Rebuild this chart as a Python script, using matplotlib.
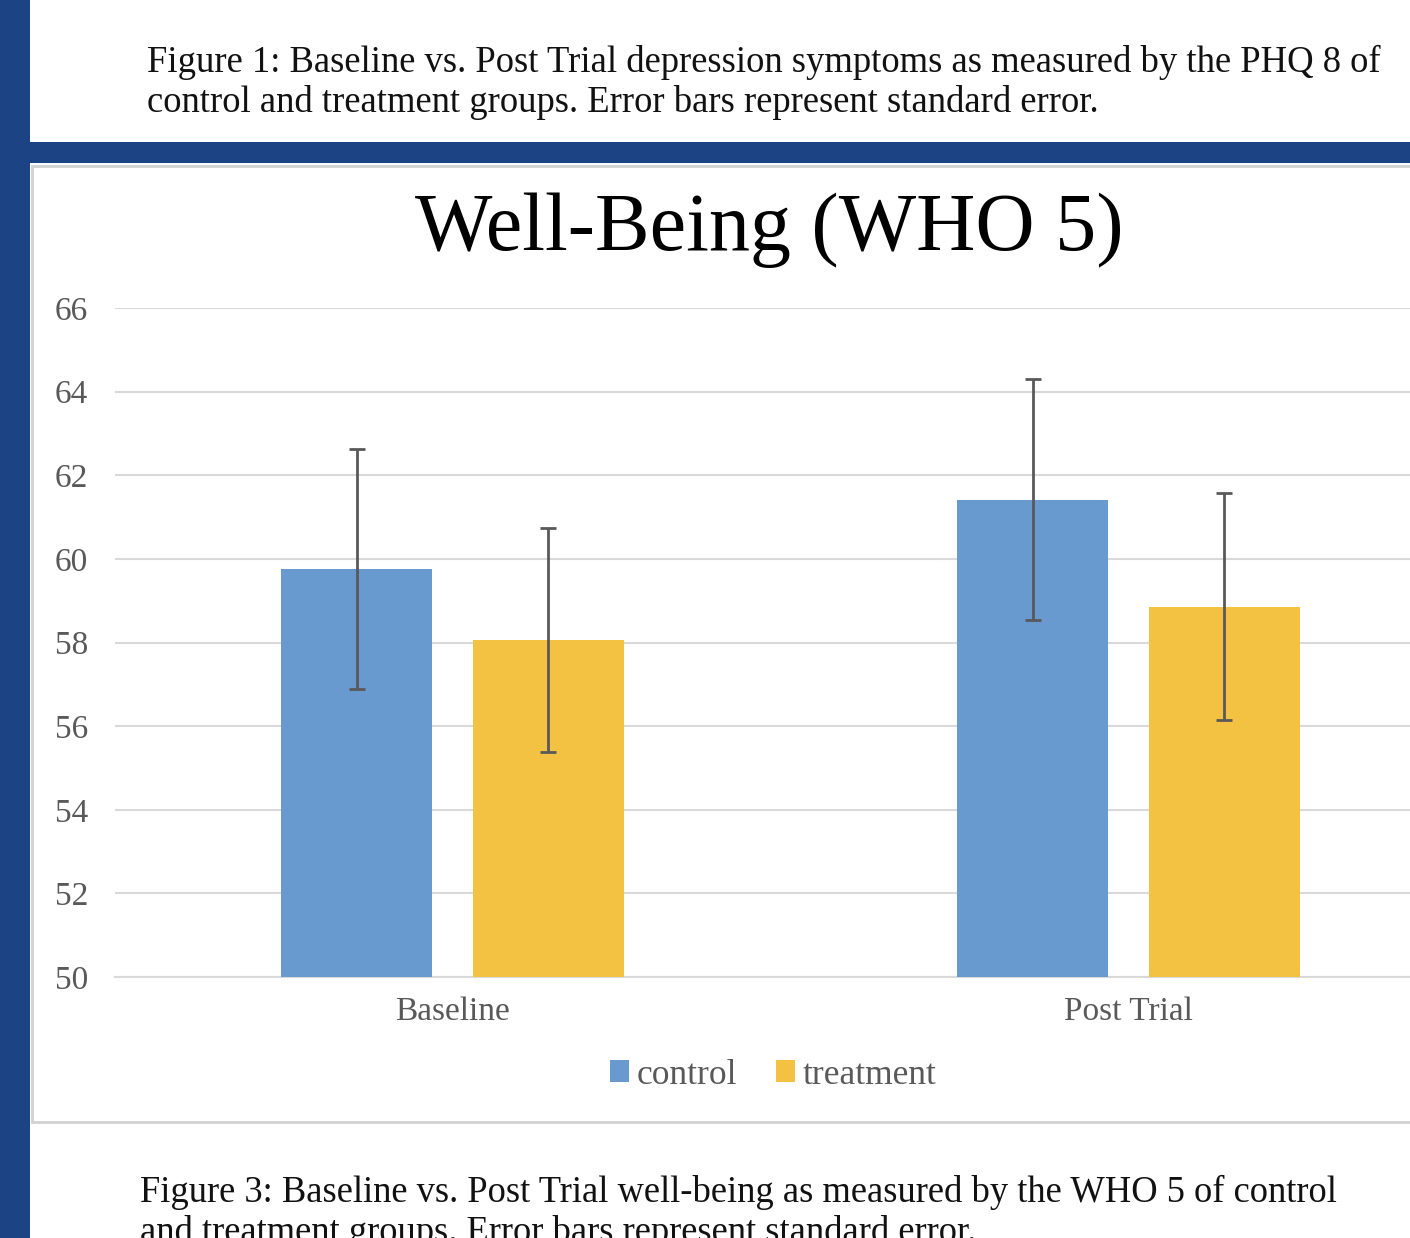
import matplotlib.pyplot as plt
import numpy as np
from matplotlib.patches import Rectangle

# data
groups = ["Baseline", "Post Trial"]
series = ["control", "treatment"]
control = [59.75, 61.42]
treatment = [58.07, 58.86]
control_se = [2.87, 2.87]
treatment_se = [2.68, 2.71]
yticks = [50, 52, 54, 56, 58, 60, 62, 64, 66]

title = "Well-Being (WHO 5)"
cap_top = ["Figure 1: Baseline vs. Post Trial depression symptoms as measured by the PHQ 8 of",
           "control and treatment groups. Error bars represent standard error."]
cap_bot = ["Figure 3: Baseline vs. Post Trial well-being as measured by the WHO 5 of control",
           "and treatment groups. Error bars represent standard error."]

W, H = 1410, 1238
plt.rcParams["font.family"] = ["Liberation Serif", "DejaVu Serif"]

fig = plt.figure(figsize=(W / 100, H / 100), dpi=100)
fig.patch.set_facecolor("white")


def fx(x):
    return x / W


def fy(y):
    return 1 - y / H


blue = "#1c4384"
# poster background pieces
fig.patches.append(Rectangle((0, 0), fx(30), 1, transform=fig.transFigure,
                             facecolor=blue, edgecolor="none", zorder=-2))
fig.patches.append(Rectangle((fx(30), fy(163)), 1, fy(142) - fy(163),
                             transform=fig.transFigure, facecolor=blue,
                             edgecolor="none", zorder=-2))
fig.patches.append(Rectangle((fx(32), fy(1122)), 1, fy(166) - fy(1122),
                             transform=fig.transFigure, facecolor="white",
                             edgecolor="#d2d2d2", linewidth=2, zorder=-2))

# captions
for i, line in enumerate(cap_top):
    fig.text(fx(147), fy(72 + 40 * i), line, fontsize=26.4, color="#111111",
             va="baseline", ha="left")
for i, line in enumerate(cap_bot):
    fig.text(fx(140), fy(1202 + 40 * i), line, fontsize=26.3, color="#111111",
             va="baseline", ha="left")

fig.text(fx(769), fy(250), title, fontsize=59, color="black",
         ha="center", va="baseline")

# chart axes, x from -0.5 to 1.5 (right side runs off the picture)
ax = fig.add_axes([fx(114.5), fy(977), (676 * 2) / W, (977 - 308) / H])
ax.set_facecolor("none")
ax.set_zorder(2)

x = np.arange(len(groups))
bw = 0.2234
off = 0.142
err_kw = dict(ecolor="#595959", elinewidth=2.0, capsize=5.8, capthick=2.0)
ax.bar(x - off, control, bw, yerr=control_se, color="#6899cf",
       label=series[0], error_kw=err_kw, zorder=3)
ax.bar(x + off, treatment, bw, yerr=treatment_se, color="#f3c243",
       label=series[1], error_kw=err_kw, zorder=3)

ax.set_xlim(-0.5, 1.5)
ax.set_ylim(50, 66)
ax.set_yticks(yticks)
ax.set_xticks(x)
ax.set_xticklabels(groups)
ax.tick_params(axis="y", length=0, pad=19, labelsize=24, labelcolor="#595959")
ax.tick_params(axis="x", length=0, pad=14, labelsize=24, labelcolor="#595959")
ax.grid(True, axis="y", color="#d9d9d9", linewidth=1.5, zorder=0)
ax.set_axisbelow(True)
for s in ["top", "right", "left"]:
    ax.spines[s].set_visible(False)
ax.spines["bottom"].set_color("#d9d9d9")
ax.spines["bottom"].set_linewidth(1.5)

ax.legend(loc="center", bbox_to_anchor=(fx(773), fy(1075)),
          bbox_transform=fig.transFigure, ncol=2, frameon=False,
          fontsize=25.5, labelcolor="#595959", handlelength=0.55,
          handleheight=0.55, handletextpad=0.2, columnspacing=1.1)

fig.savefig("out.png", dpi=100)
